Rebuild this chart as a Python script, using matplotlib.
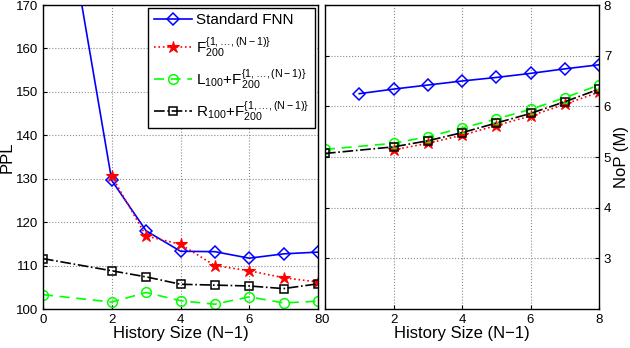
import matplotlib.pyplot as plt
import numpy as np

plt.rcParams['font.family'] = ['Liberation Sans', 'DejaVu Sans']
plt.rcParams['mathtext.fontset'] = 'custom'
plt.rcParams['mathtext.rm'] = 'Liberation Sans'
plt.rcParams['mathtext.it'] = 'Liberation Sans'

# left panel: perplexity
x_fnn = [1, 2, 3, 4, 5, 6, 7, 8]
ppl_fnn = [176, 129.6, 118.0, 113.3, 113.2, 111.7, 112.7, 113.1]
x_f = [2, 3, 4, 5, 6, 7, 8]
ppl_f = [130.6, 116.8, 114.9, 110.0, 108.8, 107.2, 106.2]
x_lr = [0, 2, 3, 4, 5, 6, 7, 8]
ppl_l = [103.3, 101.6, 103.8, 101.9, 101.1, 102.8, 101.4, 101.8]
ppl_r = [111.6, 108.8, 107.4, 105.7, 105.5, 105.3, 104.7, 105.8]

# right panel: number of parameters (M)
nop_fnn = [6.25, 6.34, 6.42, 6.50, 6.57, 6.65, 6.74, 6.82]
nop_f = [5.14, 5.27, 5.43, 5.62, 5.81, 6.04, 6.28]
nop_l = [5.15, 5.27, 5.40, 5.57, 5.75, 5.94, 6.17, 6.42]
nop_r = [5.07, 5.20, 5.32, 5.48, 5.67, 5.86, 6.09, 6.34]

labels = ['Standard FNN',
          r'$\mathrm{F}_{200}^{\{1,\ldots,(\mathrm{N}-1)\}}$',
          r'$\mathrm{L}_{100}\mathrm{+F}_{200}^{\{1,\ldots,(\mathrm{N}-1)\}}$',
          r'$\mathrm{R}_{100}\mathrm{+F}_{200}^{\{1,\ldots,(\mathrm{N}-1)\}}$']

fig = plt.figure(figsize=(6.3, 3.48), dpi=100)
ax1 = fig.add_axes([43/630, 39/348, 275/630, 304/348])
ax2 = fig.add_axes([325/630, 39/348, 274/630, 304/348])

def style(ax):
    ax.grid(True, linestyle=':', color='0.55', linewidth=0.8)
    ax.tick_params(direction='in', labelsize=9.5, length=3)
    ax.set_xlim(0, 8)
    ax.set_xticks([0, 2, 4, 6, 8])
    ax.set_xlabel('History Size (N\u22121)', fontsize=12, labelpad=0)
    for s in ax.spines.values():
        s.set_linewidth(1.0)

def draw(ax, xs, ys):
    ax.plot(xs[0], ys[0], color='#0000ff', marker='D', mfc='none', ms=6, mew=1.1, lw=1.2, label=labels[0])
    ax.plot(xs[1], ys[1], color='#ff0000', marker='*', ms=9, mew=0.8, lw=1.2, ls=':', label=labels[1])
    ax.plot(xs[2], ys[2], color='#00ff00', marker='o', mfc='none', ms=7, mew=1.1, lw=1.2, ls=(0, (6, 4)), label=labels[2])
    ax.plot(xs[3], ys[3], color='black', marker='s', mfc='none', ms=6, mew=1.1, lw=1.2, ls='-.', label=labels[3])

draw(ax1, [x_fnn, x_f, x_lr, x_lr], [ppl_fnn, ppl_f, ppl_l, ppl_r])
style(ax1)
ax1.set_ylim(100, 170)
ax1.set_yticks(np.arange(100, 171, 10))
ax1.set_ylabel('PPL', fontsize=12, labelpad=1)
leg = ax1.legend(loc='upper right', fontsize=11, fancybox=False, framealpha=1,
                 edgecolor='black', borderpad=0.35, labelspacing=0.55, handlelength=2.5,
                 handletextpad=0.3, borderaxespad=0.2)
leg.get_frame().set_linewidth(1.0)

draw(ax2, [x_fnn, x_f, x_lr, x_lr], [nop_fnn, nop_f, nop_l, nop_r])
style(ax2)
ax2.set_ylim(2, 8)
ax2.set_yticks([3, 4, 5, 6, 7, 8])
ax2.yaxis.tick_right()
ax2.yaxis.set_label_position('right')
ax2.tick_params(axis='y', which='both', left=True, right=True)
ax2.set_ylabel('NoP (M)', fontsize=12, labelpad=2)

fig.savefig('out.png', dpi=100)
